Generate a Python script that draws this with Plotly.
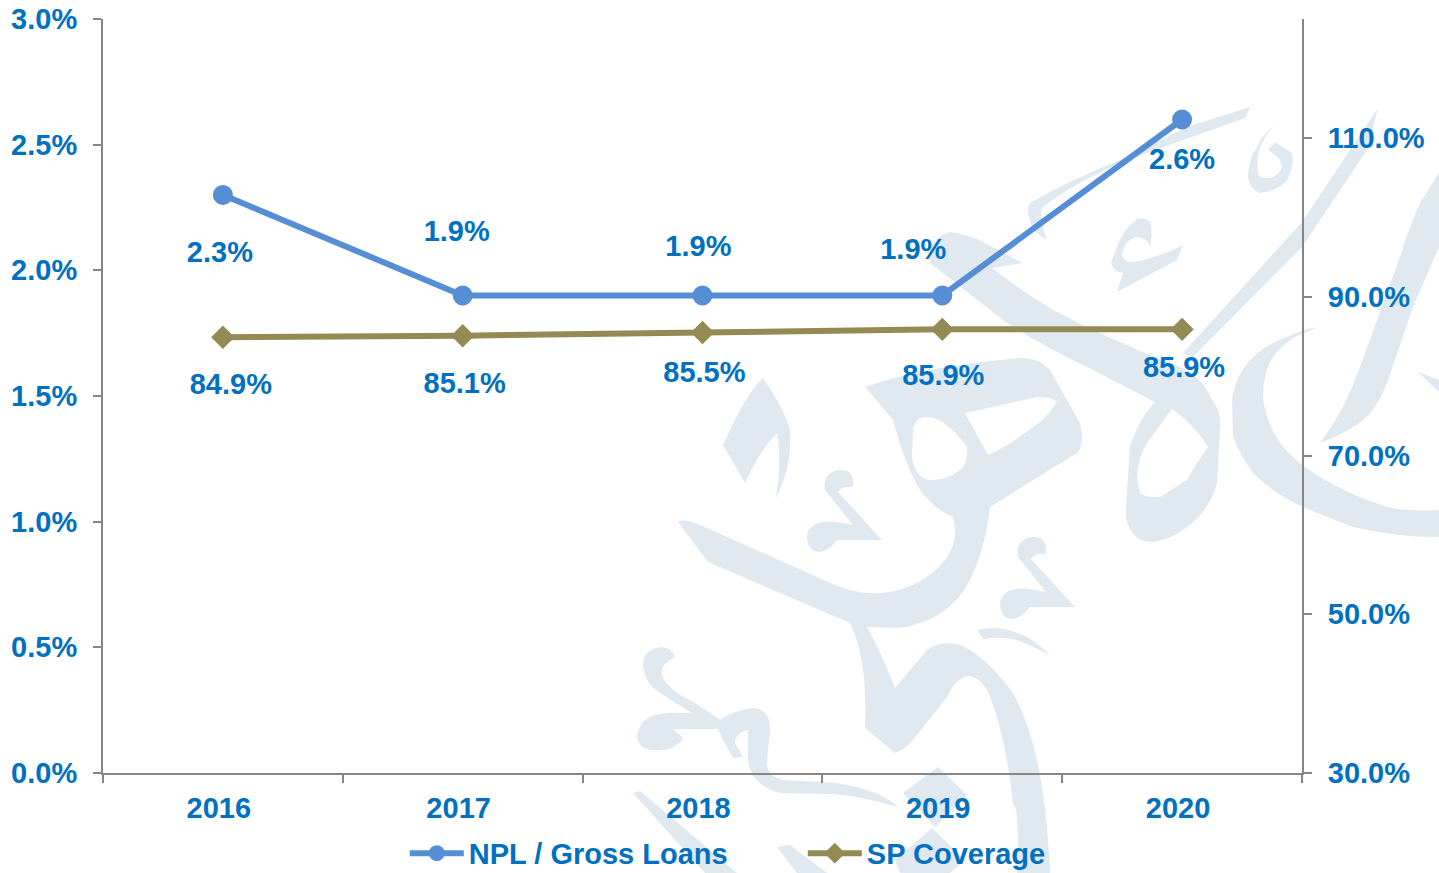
import base64
import plotly.graph_objects as go

years = ["2016", "2017", "2018", "2019", "2020"]
npl = [2.3, 1.9, 1.9, 1.9, 2.6]
sp = [84.9, 85.1, 85.5, 85.9, 85.9]
npl_labels = ["2.3%", "1.9%", "1.9%", "1.9%", "2.6%"]
sp_labels = ["84.9%", "85.1%", "85.5%", "85.9%", "85.9%"]
left_ticks = [0, 0.5, 1, 1.5, 2, 2.5, 3]
right_ticks = [30, 50, 70, 90, 110]
npl_label_y = [2.061, 2.144, 2.085, 2.073, 2.431]
npl_label_x = [-0.0125, -0.025, -0.017, -0.121, 0.0]
sp_label_y = [78.62, 78.75, 80.12, 79.76, 80.77]
sp_label_x = [0.033, 0.008, 0.008, 0.004, 0.008]
year_label_shift = -0.017

BLUE = "#0070c0"
LINE = "#558ed5"
OLIVE = "#948a54"
GREY = "#868686"
WM = "#e0e8f0"
F = dict(family="Liberation Sans", size=29, color=BLUE, weight="bold")
W, H, L, R, T, B = 1439, 873, 103, 137, 19, 100

HOOK = "M853 487Q855 470 840 470Q822 472 825 490L853 525Q830 520 823 522Q807 525 807 537Q808 552 820 552Q830 550 837 540L882 540L838 492Q842 486 853 487Z"
watermark_paths = [
    "M723 445Q745 395 763 378Q785 410 790 430Q793 465 776 498Q782 455 777 433Q760 450 745 483Z",
    HOOK,
    "M977 630Q1000 624 1027 637Q1040 645 1050 655Q1030 645 1017 640Q1000 636 983 639Z",
    # head, swoosh and lower leg, with the two counters
    "M678 522Q682 518 700 525L835 585Q860 595 880 593Q920 590 945 560Q960 540 953 517Q935 510 920 490Q905 465 893 420L865 387Q920 367 1020 358Q1040 358 1050 370L1080 423Q1085 445 1077 453L990 507Q985 550 970 580Q950 620 900 628L867 627Q880 650 895 688L927 650Q940 640 960 645Q985 655 1013 693Q1045 750 1050 873L1017 873Q1020 810 1013 803Q1005 730 987 690Q975 672 965 677Q955 680 947 697L913 740Q905 750 895 753L865 728Q868 660 850 623L708 562Z"
    "M913 430Q915 417 927 417Q945 417 967 447Q968 460 963 467Q950 480 930 480Q915 478 912 457Z"
    "M965 413L1037 397Q1052 397 1057 402Q1045 420 1033 427Q1010 445 988 455Z",
    "M675 657Q672 647 660 647Q643 650 643 665Q645 685 663 695L692 713Q670 712 660 714Q640 716 637 737Q640 750 653 750Q675 752 683 738L673 729L718 729Q725 745 733 758L743 757L735 743Q735 733 748 730L748 760Q750 785 780 793L833 794Q860 796 898 807Q880 790 837 783L783 780Q765 775 767 760L770 730Q770 708 753 708Q735 710 720 720Q700 705 680 695Q660 680 662 672Q662 663 675 657Z",
    "M938 767L967 795L935 827L903 793Z",
    "M932 828L965 860L950 873L900 873L895 860Z",
    "M633 793L640 791L737 873L705 873Z",
    "M777 847L790 845L827 873L797 873Z",
    # big diagonal loop with its counter
    "M930 263Q925 240 950 232Q970 235 983 242L1022 263L992 268Q1020 290 1053 310Q1110 340 1180 367Q1205 380 1210 397Q1222 410 1220 430L1217 483Q1210 510 1187 527Q1170 540 1153 542Q1138 542 1133 533Q1125 525 1126 507L1130 447Q1138 420 1155 402L1087 367Q1040 345 1003 320Z"
    "M1172 409Q1195 425 1208 447Q1195 465 1187 480L1160 497Q1145 498 1140 493Q1136 480 1138 467Q1140 455 1147 443Z",
    "M1250 107L1245 118L1127 160Q1070 185 1043 207Q1038 215 1047 240Q1030 230 1030 220Q1026 210 1030 203Q1070 180 1120 160L1187 127Z",
    "M1278 122Q1262 135 1257 147Q1248 160 1248 177Q1250 190 1260 193Q1280 190 1287 180Q1295 165 1292 153L1275 142L1268 150Q1282 158 1282 167Q1278 178 1267 178Q1258 178 1258 173Q1256 160 1260 147Q1268 130 1278 122Z",
    "M1150 222Q1145 217 1137 219Q1125 228 1120 240L1111 262Q1113 272 1123 273L1117 292L1177 260L1183 245Q1170 252 1153 257Q1140 262 1128 262Q1120 258 1123 250Q1128 238 1137 237Q1148 238 1150 247Q1153 235 1150 222Z",
    "M1378 108L1367 150L1302 247L1193 357L1183 353L1302 222Z",
    "M1318 327Q1300 330 1287 337Q1265 345 1253 357Q1235 375 1232 400L1233 437Q1240 455 1253 473Q1275 495 1303 507L1353 527Q1395 537 1439 537L1439 510Q1410 512 1387 507Q1350 495 1320 477Q1295 462 1280 443Q1265 420 1263 397Q1263 372 1273 357Q1282 345 1293 338Z",
    "M1439 173L1420 203Q1410 225 1400 257L1360 367Q1345 410 1320 443Q1350 432 1367 417Q1380 402 1387 383L1413 307L1439 247Z",
    "M1418 372L1439 380L1439 392Z",
]
svg_body = "".join(f'<path fill="{WM}" fill-rule="evenodd" d="{d}"/>' for d in watermark_paths)
svg_body += f'<path fill="{WM}" transform="translate(193 67)" d="{HOOK}"/>'
svg = f'<svg xmlns="http://www.w3.org/2000/svg" width="{W}" height="{H}" viewBox="0 0 {W} {H}">{svg_body}</svg>'
src = "data:image/svg+xml;base64," + base64.b64encode(svg.encode()).decode()
pw, ph = W - L - R, H - T - B

xs = list(range(len(years)))
fig = go.Figure()
fig.add_trace(go.Scatter(x=xs, y=sp, yaxis="y2", mode="lines+markers", name="SP Coverage",
    line=dict(color=OLIVE, width=6), marker=dict(symbol="diamond", size=18, color=OLIVE)))
fig.add_trace(go.Scatter(x=xs, y=npl, mode="lines+markers", name="NPL / Gross Loans",
    line=dict(color=LINE, width=6), marker=dict(symbol="circle", size=20, color=LINE)))
fig.add_trace(go.Scatter(x=[i + d for i, d in zip(xs, npl_label_x)], y=npl_label_y, mode="text", text=npl_labels,
    textfont=F, showlegend=False, hoverinfo="skip"))
fig.add_trace(go.Scatter(x=[i + d for i, d in zip(xs, sp_label_x)], y=sp_label_y, yaxis="y2", mode="text", text=sp_labels,
    textfont=F, showlegend=False, hoverinfo="skip"))

axis_common = dict(showgrid=False, zeroline=False, showline=True, linecolor=GREY, linewidth=2, automargin=False)
fig.update_layout(
    template="none", width=W, height=H, paper_bgcolor="white", plot_bgcolor="rgba(0,0,0,0)",
    margin=dict(l=L, r=R, t=T, b=B, autoexpand=False), font=F, showlegend=True,
    images=[dict(source=src, xref="paper", yref="paper", x=-L / pw, y=1 + T / ph, sizex=W / pw, sizey=H / ph,
                 xanchor="left", yanchor="top", sizing="stretch", layer="below")],
    xaxis=dict(range=[-0.5, 4.5], tickmode="array", tickvals=[i + year_label_shift for i in xs], ticktext=years, ticks="",
        ticklabelstandoff=8, tickfont=F,
        minor=dict(tickmode="array", tickvals=[i - 0.5 for i in range(6)], ticks="outside", ticklen=8, tickcolor=GREY, tickwidth=2, showgrid=False),
        **axis_common),
    yaxis=dict(range=[0, 3], tickmode="array", tickvals=left_ticks, ticktext=[f"{v:.1f}%" for v in left_ticks],
        ticks="outside", ticklen=8, tickcolor=GREY, tickwidth=2, ticklabelstandoff=10, tickfont=F, **axis_common),
    yaxis2=dict(overlaying="y", side="right", range=[30, 125], tickmode="array", tickvals=right_ticks,
        ticktext=[f"{v:.1f}%" for v in right_ticks], ticks="outside", ticklen=8, tickcolor=GREY, tickwidth=2,
        ticklabelstandoff=10, tickfont=F, **axis_common),
    legend=dict(orientation="h", x=0.2517, xanchor="left", y=-0.0727, yanchor="top", traceorder="reversed", font=F,
        bgcolor="rgba(0,0,0,0)", itemwidth=54, itemsizing="trace", entrywidth=329, entrywidthmode="pixels"),
)
fig.write_html("out.html", config=dict(displayModeBar=False),
    post_script="document.body.style.margin='0';document.documentElement.style.overflow='hidden';")
